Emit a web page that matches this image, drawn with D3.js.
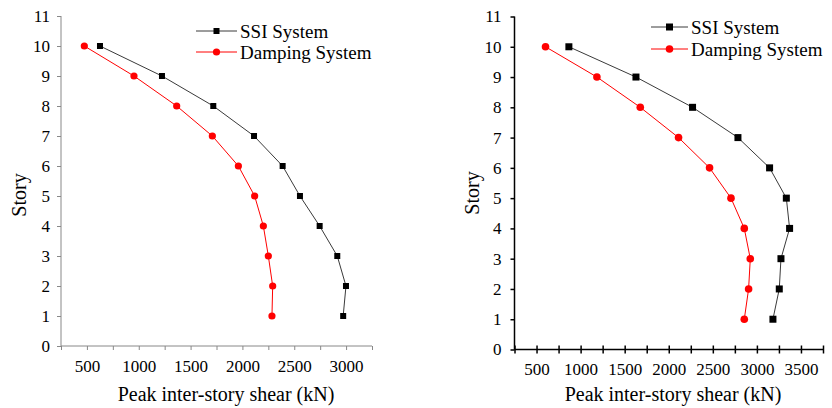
<!DOCTYPE html>
<html lang="en">
<head>
    <meta charset="UTF-8">
    <title>Peak inter-story shear</title>
    <style>
        body { margin: 0; background: #fff; }
        svg, svg text { font-family: "Liberation Serif", "Times New Roman", serif !important; }
    </style>
</head>
<body>
    <div id="container"></div>

    <script type="text/javascript" src="https://d3js.org/d3.v7.min.js"></script>
    <script type="text/javascript">
        // Stories 1..10, values (kN)
        var stories = [1, 2, 3, 4, 5, 6, 7, 8, 9, 10];

        var leftSSI     = [2972, 2999, 2915, 2745, 2555, 2388, 2112, 1719, 1224, 626];
        var leftDamping = [2285, 2292, 2250, 2202, 2118, 1961, 1710, 1366, 954, 475];

        var rightSSI     = [3182, 3254, 3273, 3371, 3334, 3144, 2785, 2270, 1628, 867];
        var rightDamping = [2857, 2906, 2925, 2857, 2706, 2463, 2111, 1677, 1185, 602];

        var yTicks = [0, 1, 2, 3, 4, 5, 6, 7, 8, 9, 10, 11];
        var leftXTicks = d3.range(250, 3251, 250);
        var rightXTicks = d3.range(250, 3751, 250);

        var seriesNames = ["SSI System", "Damping System"];
        var xTitle = "Peak inter-story shear (kN)";
        var yTitle = "Story";

        var serif = "'Liberation Serif', 'Times New Roman', serif";

        var svg = d3.select("#container")
            .append("svg")
            .attr("width", 832)
            .attr("height", 408)
            .style("font-family", serif);

        function drawPanel(p) {
            var g = svg.append("g");

            var x = d3.scaleLinear().domain(p.xDomain).range([p.left, p.right]);
            var y = d3.scaleLinear().domain([0, 11]).range([p.bottom, p.top]);

            var xAxis = g.append("g")
                .attr("transform", "translate(0," + p.bottom + ")")
                .call(d3.axisBottom(x)
                    .tickValues(p.xTicks)
                    .tickSize(4)
                    .tickPadding(p.xPad)
                    .tickFormat(function(d) { return d % 500 === 0 ? d : ""; }));

            var yAxis = g.append("g")
                .attr("transform", "translate(" + p.left + ",0)")
                .call(d3.axisLeft(y)
                    .tickValues(yTicks)
                    .tickSize(4)
                    .tickPadding(p.yPad));

            [xAxis, yAxis].forEach(function(a) {
                a.attr("font-family", null).style("font-family", serif);
                a.select(".domain").attr("stroke", p.axisColor).attr("stroke-width", p.axisWidth);
                a.selectAll(".tick line").attr("stroke", p.axisColor).attr("stroke-width", p.axisWidth);
                a.selectAll("text")
                    .attr("font-size", 17)
                    .style("font-family", serif)
                    .attr("fill", "#000");
            });
            xAxis.select(".domain").attr("d", "M" + p.left + ",0H" + p.right);
            yAxis.select(".domain").attr("d", "M0," + p.bottom + "V" + p.top);
            if (p.crossTicks) {
                xAxis.selectAll(".tick line").attr("y1", -4);
            }

            // axis titles
            g.append("text")
                .attr("x", p.titleX)
                .attr("y", 394)
                .attr("dy", "0.35em")
                .attr("text-anchor", "middle")
                .attr("font-size", 20)
                .style("font-family", serif)
                .text(xTitle);

            g.append("text")
                .attr("transform", "translate(" + p.storyX + "," + p.storyY + ") rotate(-90)")
                .attr("dy", "0.35em")
                .attr("text-anchor", "middle")
                .attr("font-size", 20)
                .style("font-family", serif)
                .text(yTitle);

            var line = d3.line()
                .x(function(d) { return x(d[0]); })
                .y(function(d) { return y(d[1]); });

            var ssi = p.ssi.map(function(v, i) { return [v, stories[i]]; });
            var damp = p.damping.map(function(v, i) { return [v, stories[i]]; });

            g.append("path")
                .attr("d", line(ssi))
                .attr("fill", "none")
                .attr("stroke", "#3a3a3a")
                .attr("stroke-width", 1);

            g.append("path")
                .attr("d", line(damp))
                .attr("fill", "none")
                .attr("stroke", "#ff0000")
                .attr("stroke-width", 1);

            g.selectAll("rect.ssi")
                .data(ssi)
                .enter()
                .append("rect")
                .attr("class", "ssi")
                .attr("x", function(d) { return x(d[0]) - p.sq / 2; })
                .attr("y", function(d) { return y(d[1]) - p.sq / 2; })
                .attr("width", p.sq)
                .attr("height", p.sq)
                .attr("fill", "#000");

            g.selectAll("circle.damp")
                .data(damp)
                .enter()
                .append("circle")
                .attr("class", "damp")
                .attr("cx", function(d) { return x(d[0]); })
                .attr("cy", function(d) { return y(d[1]); })
                .attr("r", p.r)
                .attr("fill", "#ff0000");

            // legend
            var lg = g.append("g");
            seriesNames.forEach(function(name, i) {
                var ly = p.legendY[i];
                lg.append("line")
                    .attr("x1", p.legendX[0]).attr("x2", p.legendX[1])
                    .attr("y1", ly).attr("y2", ly)
                    .attr("stroke", i === 0 ? "#3a3a3a" : "#ff0000")
                    .attr("stroke-width", 1);
                var mx = (p.legendX[0] + p.legendX[1]) / 2;
                if (i === 0) {
                    lg.append("rect")
                        .attr("x", mx - p.sq / 2).attr("y", ly - p.sq / 2)
                        .attr("width", p.sq).attr("height", p.sq)
                        .attr("fill", "#000");
                } else {
                    lg.append("circle")
                        .attr("cx", mx).attr("cy", ly).attr("r", p.r)
                        .attr("fill", "#ff0000");
                }
                lg.append("text")
                    .attr("x", p.legendX[1] + 3)
                    .attr("y", ly)
                    .attr("dy", "0.35em")
                    .attr("font-size", 19)
                    .style("font-family", serif)
                    .text(name);
            });
        }

        drawPanel({
            xDomain: [250, 3250], xTicks: leftXTicks,
            left: 61, right: 372, top: 16, bottom: 346,
            xPad: 10, yPad: 7,
            axisColor: "#888", axisWidth: 1, crossTicks: false,
            ssi: leftSSI, damping: leftDamping,
            sq: 6, r: 3.6,
            titleX: 226, storyX: 19, storyY: 195,
            legendX: [196, 237], legendY: [31, 52]
        });

        drawPanel({
            xDomain: [250, 3750], xTicks: rightXTicks,
            left: 514.5, right: 823, top: 16.5, bottom: 349.5,
            xPad: 9, yPad: 9,
            axisColor: "#000", axisWidth: 1.5, crossTicks: true,
            ssi: rightSSI, damping: rightDamping,
            sq: 7, r: 3.8,
            titleX: 673, storyX: 472, storyY: 193,
            legendX: [651, 688], legendY: [27, 49]
        });
    </script>
</body>
</html>
